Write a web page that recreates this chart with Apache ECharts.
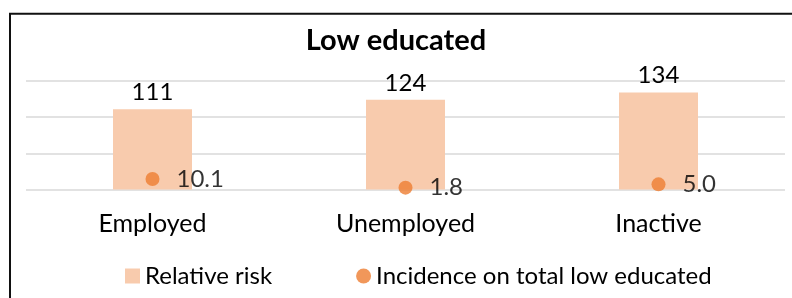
<!DOCTYPE html>
<html>
<head>
<meta charset="utf-8">
<script src="https://cdn.jsdelivr.net/npm/echarts@6/dist/echarts.min.js"></script>
<style>
  html, body { margin: 0; padding: 0; background: #fff; }
  #main { width: 792px; height: 298px; }
</style>
</head>
<body>
<div id="main"></div>
<script>
// data
var categories = ['Employed', 'Unemployed', 'Inactive'];
var relativeRisk = [111, 124, 134];
var incidence = [10.1, 1.8, 5.0];
var seriesNames = ['Relative risk', 'Incidence on total low educated'];

var FONT = 'Lato';

var chart = echarts.init(document.getElementById('main'));
chart.setOption({
  animation: false,
  backgroundColor: '#fff',
  textStyle: { fontFamily: FONT, color: '#000' },
  title: {
    text: 'Low educated',
    left: 'center',
    top: 21,
    textStyle: { fontFamily: FONT, fontSize: 29, fontWeight: 'bold', color: '#000' }
  },
  legend: {
    left: 120,
    top: 259,
    itemWidth: 15,
    itemHeight: 15,
    itemGap: 84,
    textStyle: { fontFamily: FONT, fontSize: 24, color: '#000' },
    data: [
      { name: seriesNames[0], icon: 'rect' },
      { name: seriesNames[1], icon: 'circle' }
    ]
  },
  grid: { left: 26, right: 7, top: 81, bottom: 108.5 },
  xAxis: {
    type: 'category',
    data: categories,
    axisLine: { show: false },
    axisTick: { show: false },
    axisLabel: { fontFamily: FONT, fontSize: 25, color: '#000', margin: 22 }
  },
  yAxis: [
    {
      type: 'value',
      min: 0,
      max: 150,
      interval: 50,
      axisLabel: { show: false },
      axisLine: { show: false },
      axisTick: { show: false },
      splitLine: { lineStyle: { color: '#d9d9d9', width: 1.5 } }
    },
    {
      type: 'value',
      min: 0,
      max: 105,
      show: false,
      splitLine: { show: false }
    }
  ],
  series: [
    {
      name: seriesNames[0],
      type: 'bar',
      yAxisIndex: 0,
      data: relativeRisk,
      barWidth: 79,
      itemStyle: { color: '#f8cbad' },
      label: {
        show: true,
        position: 'top',
        distance: 5,
        fontFamily: FONT,
        fontSize: 24,
        color: '#000'
      }
    },
    {
      name: seriesNames[1],
      type: 'scatter',
      yAxisIndex: 1,
      data: incidence,
      symbol: 'circle',
      symbolSize: 14,
      itemStyle: { color: '#ed7d31' },
      z: 5,
      label: {
        show: true,
        position: 'right',
        distance: 17,
        fontFamily: FONT,
        fontSize: 24,
        color: '#000',
        formatter: function (p) { return p.value.toFixed(1); }
      }
    }
  ],
  graphic: [
    {
      type: 'rect',
      silent: true,
      shape: { x: 10, y: 13.7, width: 900, height: 400 },
      style: { fill: 'none', stroke: '#111', lineWidth: 2 }
    }
  ]
});
</script>
</body>
</html>
